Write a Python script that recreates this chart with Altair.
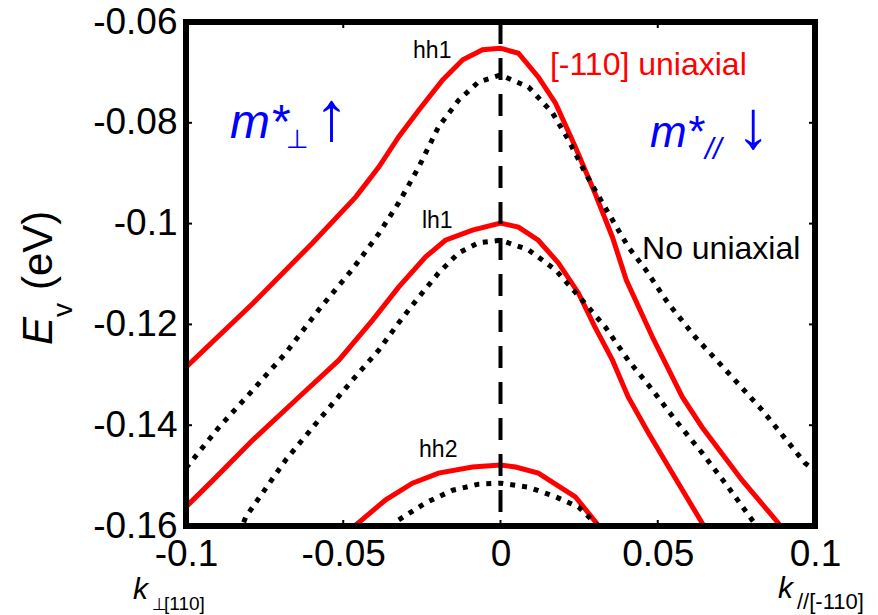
import altair as alt
import pandas as pd

# Valence-band dispersion E_v(k): left half is k along ⊥[110], right half along //[-110]
# "uniaxial" = [-110] uniaxial stress, "none" = no uniaxial stress

hh1_uni_k = [-0.100, -0.0787, -0.0597, -0.046, -0.0387, -0.0324, -0.026, -0.0184, -0.012, -0.0057, 0.0,
             0.0057, 0.012, 0.0175, 0.0238, 0.030, 0.0356, 0.040, 0.0483, 0.0578, 0.0641, 0.0768, 0.0883, 0.092]
hh1_uni_e = [-0.1285, -0.1158, -0.1038, -0.0947, -0.0888, -0.0828, -0.0775, -0.0715, -0.0675, -0.0655, -0.0652,
             -0.0662, -0.0709, -0.0761, -0.0848, -0.0939, -0.1027, -0.1112, -0.1225, -0.1344, -0.1404, -0.1509, -0.1594, -0.1625]

hh1_none_k = [-0.100, -0.0895, -0.0787, -0.0683, -0.0578, -0.047, -0.0387, -0.0324, -0.026, -0.0197, -0.0133, -0.007, 0.0,
              0.0089, 0.0165, 0.0216, 0.027, 0.0343, 0.0406, 0.046, 0.0533, 0.0619, 0.0724, 0.0832, 0.0968, 0.100]
hh1_none_e = [-0.1485, -0.1404, -0.1330, -0.1257, -0.1171, -0.1090, -0.1020, -0.0959, -0.0888, -0.0808, -0.0755, -0.0719, -0.0705,
              -0.0729, -0.0780, -0.0834, -0.0900, -0.0979, -0.1046, -0.1090, -0.1158, -0.1225, -0.1296, -0.1370, -0.1475, -0.1490]

lh1_uni_k = [-0.100, -0.0914, -0.0787, -0.0651, -0.0514, -0.0406, -0.0324, -0.0238, -0.0175, -0.0089, 0.0,
             0.0057, 0.012, 0.0184, 0.0248, 0.030, 0.0356, 0.0406, 0.047, 0.0546, 0.0641, 0.066]
lh1_uni_e = [-0.1562, -0.1509, -0.1429, -0.1350, -0.1271, -0.1191, -0.1126, -0.1066, -0.1033, -0.1013, -0.0999,
             -0.1007, -0.1033, -0.1078, -0.1138, -0.1205, -0.1271, -0.1344, -0.1415, -0.1495, -0.1594, -0.1615]

lh1_none_k = [-0.083, -0.081, -0.0683, -0.0578, -0.047, -0.0387, -0.0324, -0.026, -0.0197, -0.0133, -0.007, 0.0,
              0.0089, 0.0175, 0.026, 0.0333, 0.0406, 0.0483, 0.0556, 0.0641, 0.0724, 0.080, 0.082]
lh1_none_e = [-0.1615, -0.1582, -0.1469, -0.1390, -0.1310, -0.1251, -0.1197, -0.1146, -0.1098, -0.1058, -0.1038, -0.1033,
              -0.1052, -0.1092, -0.1152, -0.1205, -0.1271, -0.1330, -0.1390, -0.1455, -0.1523, -0.1588, -0.1605]

hh2_uni_k = [-0.048, -0.046, -0.0365, -0.028, -0.0197, -0.0089, 0.0, 0.0048, 0.012, 0.0238, 0.031, 0.033]
hh2_uni_e = [-0.1615, -0.1598, -0.1548, -0.1515, -0.1495, -0.1483, -0.1479, -0.1483, -0.1495, -0.1542, -0.1598, -0.1615]

hh2_none_k = [-0.035, -0.0324, -0.0238, -0.0152, -0.007, 0.0, 0.0089, 0.0175, 0.0248, 0.030, 0.0315]
hh2_none_e = [-0.1605, -0.1588, -0.1554, -0.1529, -0.1517, -0.1515, -0.1523, -0.1542, -0.1562, -0.1594, -0.1605]

x_ticks = [-0.1, -0.05, 0.0, 0.05, 0.1]
y_ticks = [-0.06, -0.08, -0.1, -0.12, -0.14, -0.16]

FONT = "Liberation Sans"
W, H = 629, 504
PAD = {"left": 186, "top": 22, "right": 878 - 186 - W, "bottom": 615 - 22 - H}


def band(k, e, name, case):
    return pd.DataFrame({"k": k, "E": e, "band": name, "case": case})


curves = pd.concat([
    band(hh1_uni_k, hh1_uni_e, "hh1", "uniaxial"),
    band(lh1_uni_k, lh1_uni_e, "lh1", "uniaxial"),
    band(hh2_uni_k, hh2_uni_e, "hh2", "uniaxial"),
    band(hh1_none_k, hh1_none_e, "hh1", "none"),
    band(lh1_none_k, lh1_none_e, "lh1", "none"),
    band(hh2_none_k, hh2_none_e, "hh2", "none"),
], ignore_index=True)

x_scale = alt.Scale(domain=[-0.1, 0.1], nice=False, zero=False)
y_scale = alt.Scale(domain=[-0.16, -0.06], nice=False, zero=False)
axis_common = dict(ticks=False, domain=False, grid=False, title=None, labelFont=FONT,
                   labelFontSize=37, labelColor="black", labelOverlap=False,
                   labelFlush=False, labelExpr="toString(datum.value)")
X = alt.X("k:Q", scale=x_scale, axis=alt.Axis(values=x_ticks, labelPadding=10, **axis_common))
Y = alt.Y("E:Q", scale=y_scale, axis=alt.Axis(values=y_ticks, labelPadding=9, **axis_common))

red = alt.Chart(curves).transform_filter("datum.case == 'uniaxial'").mark_line(
    color="#ff0000", strokeWidth=5, clip=True).encode(x=X, y=Y, detail="band:N")
dotted = alt.Chart(curves).transform_filter("datum.case == 'none'").mark_line(
    color="black", strokeWidth=5, strokeDash=[5, 7], clip=True).encode(x=X, y=Y, detail="band:N")

zero_line = alt.Chart(pd.DataFrame({"k": [0.0]})).mark_rule(
    color="black", strokeWidth=4, strokeDash=[22, 14]).encode(x=X, y=alt.value(0), y2=alt.value(H))

xt = pd.DataFrame({"k": x_ticks})
yt = pd.DataFrame({"E": y_ticks})
tick_style = dict(color="black", strokeWidth=2)
ticks = [
    alt.Chart(xt).mark_rule(**tick_style).encode(x=X, y=alt.value(H), y2=alt.value(H - 6)),
    alt.Chart(xt).mark_rule(**tick_style).encode(x=X, y=alt.value(0), y2=alt.value(6)),
    alt.Chart(yt).mark_rule(**tick_style).encode(y=Y, x=alt.value(0), x2=alt.value(6)),
    alt.Chart(yt).mark_rule(**tick_style).encode(y=Y, x=alt.value(W), x2=alt.value(W - 6)),
]

frame = alt.Chart(pd.DataFrame({"a": [0]})).mark_rect(
    fillOpacity=0, stroke="black", strokeWidth=6).encode(
    x=alt.value(0), x2=alt.value(W), y=alt.value(0), y2=alt.value(H))


def label(text, k, e, size, color="black", italic=False, dx=0, dy=0, font=FONT):
    """Text anchored at a point in (k, E) data space."""
    return alt.Chart(pd.DataFrame({"k": [k], "E": [e], "t": [text]})).mark_text(
        align="left", baseline="alphabetic", fontSize=size, color=color, font=font,
        fontStyle="italic" if italic else "normal", dx=dx, dy=dy).encode(x=X, y=Y, text="t:N")


def pixel_text(text, x, y, size, italic=False, angle=0, font=FONT):
    """Text placed in page pixels (outside the plot area)."""
    return alt.Chart(pd.DataFrame({"a": [0]})).mark_text(
        align="left", baseline="alphabetic", fontSize=size, color="black", font=font,
        fontStyle="italic" if italic else "normal", angle=angle).encode(
        x=alt.value(x - PAD["left"]), y=alt.value(y - PAD["top"]), text=alt.value(text))


BLUE = "#0000ff"
annotations = [
    label("hh1", -0.0278, -0.06714, 23),
    label("lh1", -0.0250, -0.10087, 23),
    label("hh2", -0.0259, -0.14631, 23),
    label("[-110] uniaxial", 0.0157, -0.07052, 32, color="#ff0000"),
    label("No uniaxial", 0.0450, -0.10702, 32),
    # effective-mass arrows
    label("m*", -0.0860, -0.08302, 48, color=BLUE, italic=True),
    label("⊥", -0.0860, -0.08302, 26, color=BLUE, dx=56, dy=10, font="DejaVu Sans"),
    label("↑", -0.0860, -0.08302, 70, color=BLUE, dx=84, dy=2),
    label("m*", 0.0475, -0.0848, 44, color=BLUE, italic=True),
    label("//", 0.0475, -0.0848, 30, color=BLUE, italic=True, dx=55, dy=12),
    label("↓", 0.0475, -0.0848, 68, color=BLUE, dx=86, dy=1),
]

titles = [
    # y-axis title: E_v (eV), rotated
    pixel_text("E", 52, 345, 42, italic=True, angle=270),
    pixel_text("v", 72, 317, 28, angle=270),
    pixel_text("(eV)", 52, 290, 42, angle=270),
    # k-direction labels under the x axis
    pixel_text("k", 133, 599, 30, italic=True),
    pixel_text("⊥", 152, 610, 17, font="DejaVu Sans"),
    pixel_text("[110]", 164, 610, 19),
    pixel_text("k", 778, 598, 30, italic=True),
    pixel_text("//[-110]", 797, 609, 22),
]

chart = alt.layer(red, dotted, zero_line, *ticks, frame, *annotations, *titles).properties(
    width=W, height=H, padding=PAD, autosize=alt.AutoSizeParams(type="none"),
    background="white",
).configure_view(stroke=None)

chart.save("out.html", embed_options={"renderer": "svg", "actions": False})
